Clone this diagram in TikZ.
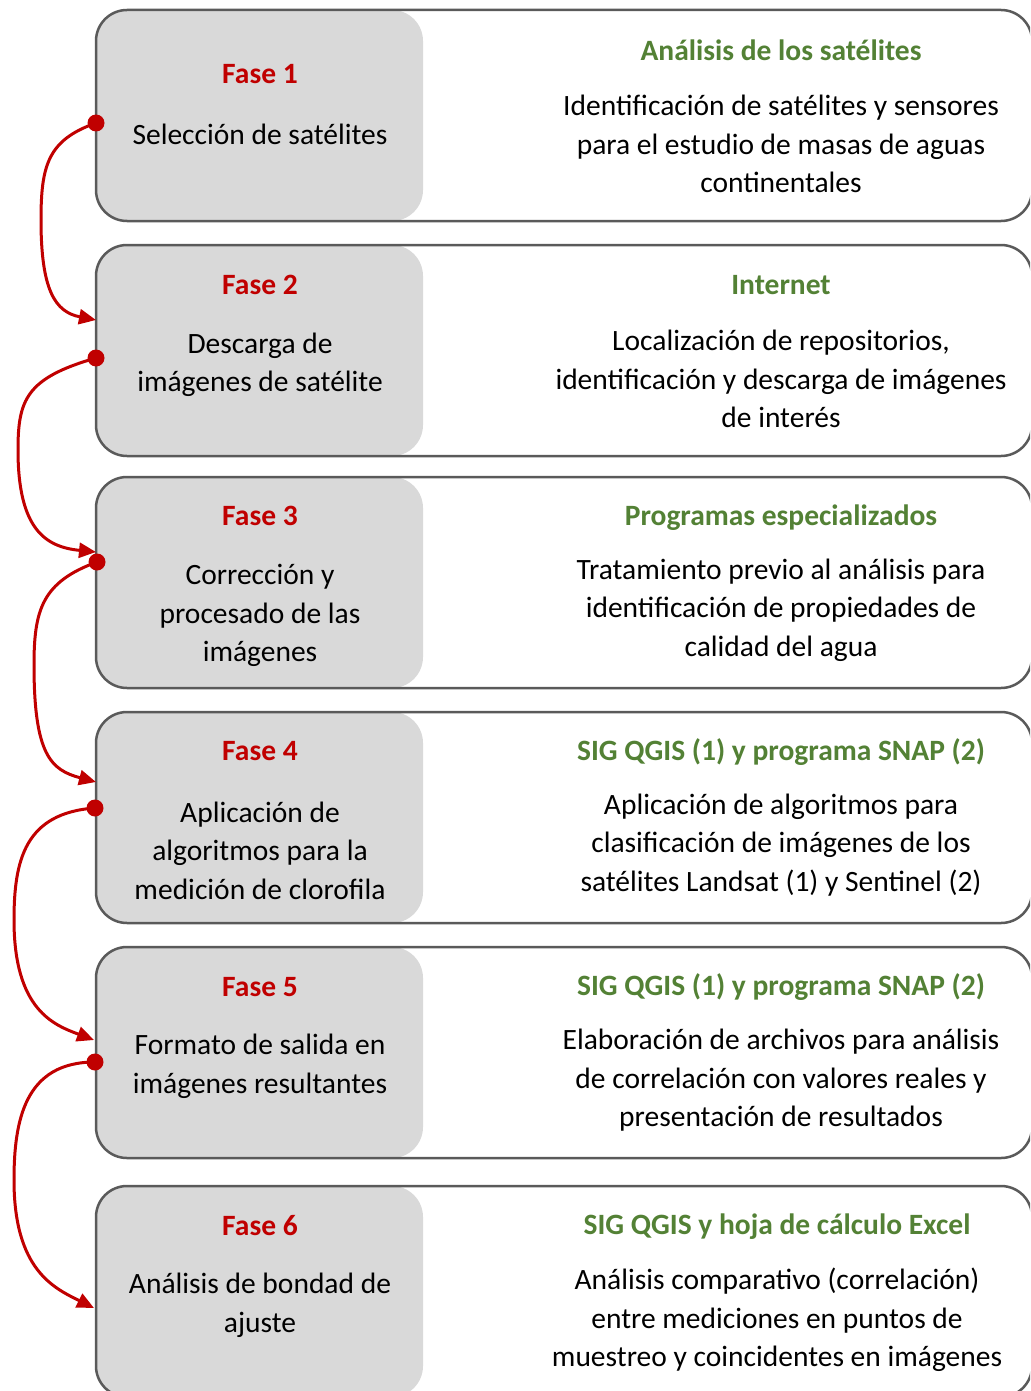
\documentclass[tikz,border=0pt]{standalone}
\usepackage{fontspec}
\setmainfont{Carlito}
\usetikzlibrary{arrows.meta}
\definecolor{fred}{HTML}{C00000}
\definecolor{fgreen}{HTML}{538135}
\definecolor{fgray}{HTML}{D9D9D9}
\definecolor{fborder}{HTML}{5A5A5A}
\tikzset{
  graybox/.style={fill=fgray, rounded corners=31pt, minimum width=327pt, minimum height=211pt, anchor=north west, inner sep=0pt, outer sep=0pt},
  outerbox/.style={draw=fborder, line width=2.5pt, rounded corners=31pt, minimum width=936pt, minimum height=211pt, anchor=north west, inner sep=0pt, outer sep=0pt},
  fase/.style={text=fred, font=\fontsize{29.5}{38.5}\selectfont\bfseries},
  rtitle/.style={text=fgreen, font=\fontsize{29.5}{38.5}\selectfont\bfseries, yshift=-0.5pt},
  body/.style={align=center, font=\fontsize{29.5}{38.5}\selectfont, inner sep=0pt, yshift=-0.5pt},
  conn/.style={draw=fred, line width=3pt, -{Triangle[length=17pt,width=15pt]}},
  dotc/.style={fill=fred},
}
\begin{document}
\begin{tikzpicture}[x=1pt,y=-1pt]
\useasboundingbox (0,0) rectangle (1030,1391);
\clip (0,0) rectangle (1030,1391);
% boxes
\foreach \i/\t in {1/10,2/245,3/477,4/712,5/947,6/1186}{
  \node[graybox] (g\i) at (96,\t) {};
  \node[outerbox] (o\i) at (96,\t) {};
}
% left texts
\node[fase] (f1) at (260,74) {Fase 1};
\node[body] (l1) at (260,134) {Selección de satélites};
\node[fase] (f2) at (260,285) {Fase 2};
\node[body] (l2) at (260,364.5) {Descarga de\\imágenes de satélite};
\node[fase] (f3) at (260,516) {Fase 3};
\node[body] (l3) at (260,615) {Corrección y\\procesado de las\\imágenes};
\node[fase] (f4) at (260,751) {Fase 4};
\node[body] (l4) at (260,850) {Aplicación de\\algoritmos para la\\medición de clorofila};
\node[fase] (f5) at (260,987) {Fase 5};
\node[body] (l5) at (260,1066) {Formato de salida en\\imágenes resultantes};
\node[fase] (f6) at (260,1226) {Fase 6};
\node[body] (l6) at (260,1305) {Análisis de bondad de\\ajuste};
% right texts
\node[rtitle] (t1) at (781,50) {Análisis de los satélites};
\node[body] (r1) at (781,143.5) {Identificación de satélites y sensores\\para el estudio de masas de aguas\\continentales};
\node[rtitle] (t2) at (781,285) {Internet};
\node[body] (r2) at (781,378.5) {Localización de repositorios,\\identificación y descarga de imágenes\\de interés};
\node[rtitle] (t3) at (781,517) {Programas especializados};
\node[body] (r3) at (781,609.5) {Tratamiento previo al análisis para\\identificación de propiedades de\\calidad del agua};
\node[rtitle] (t4) at (781,752) {SIG QGIS (1) y programa SNAP (2)};
\node[body] (r4) at (781,844.5) {Aplicación de algoritmos para\\clasificación de imágenes de los\\satélites Landsat (1) y Sentinel (2)};
\node[rtitle] (t5) at (781,987) {SIG QGIS (1) y programa SNAP (2)};
\node[body] (r5) at (781,1080) {Elaboración de archivos para análisis\\de correlación con valores reales y\\presentación de resultados};
\node[rtitle] (t6) at (777,1226) {SIG QGIS y hoja de cálculo Excel};
\node[body] (r6) at (777,1319.5) {Análisis comparativo (correlación)\\entre mediciones en puntos de\\muestreo y coincidentes en imágenes};
% connector end points
\coordinate (s1) at (96,123);  \coordinate (e1) at (96,320);
\coordinate (s2) at (96,358);  \coordinate (e2) at (96,552);
\coordinate (s3) at (97,562);  \coordinate (e3) at (96,782);
\coordinate (s4) at (95,808);  \coordinate (e4) at (94,1040);
\coordinate (s5) at (95,1062); \coordinate (e5) at (94,1308);
\coordinate (m1) at (41,220);
\coordinate (m2) at (18,450);
\coordinate (m3) at (34,665);
\coordinate (m4) at (14,920);
\coordinate (m5) at (14,1180);
% connectors
\draw[conn] (s1) .. controls +(-48,17) and +(0,-55) .. (m1) .. controls +(0,70) and +(-41,-8) .. (e1);
\draw[conn] (s2) .. controls +(-70,20) and +(0,-50) .. (m2) .. controls +(0,80) and +(-50,-5) .. (e2);
\draw[conn] (s3) .. controls +(-55,20) and +(0,-55) .. (m3) .. controls +(0,90) and +(-45,-12) .. (e3);
\draw[conn] (s4) .. controls +(-70,5) and +(0,-60) .. (m4) .. controls +(0,90) and +(-40,-15) .. (e4);
\draw[conn] (s5) .. controls +(-70,0) and +(0,-60) .. (m5) .. controls +(0,90) and +(-40,-20) .. (e5);
\foreach \k in {1,...,5}{\fill[dotc] (s\k) circle (8.5pt);}
\end{tikzpicture}
\end{document}
